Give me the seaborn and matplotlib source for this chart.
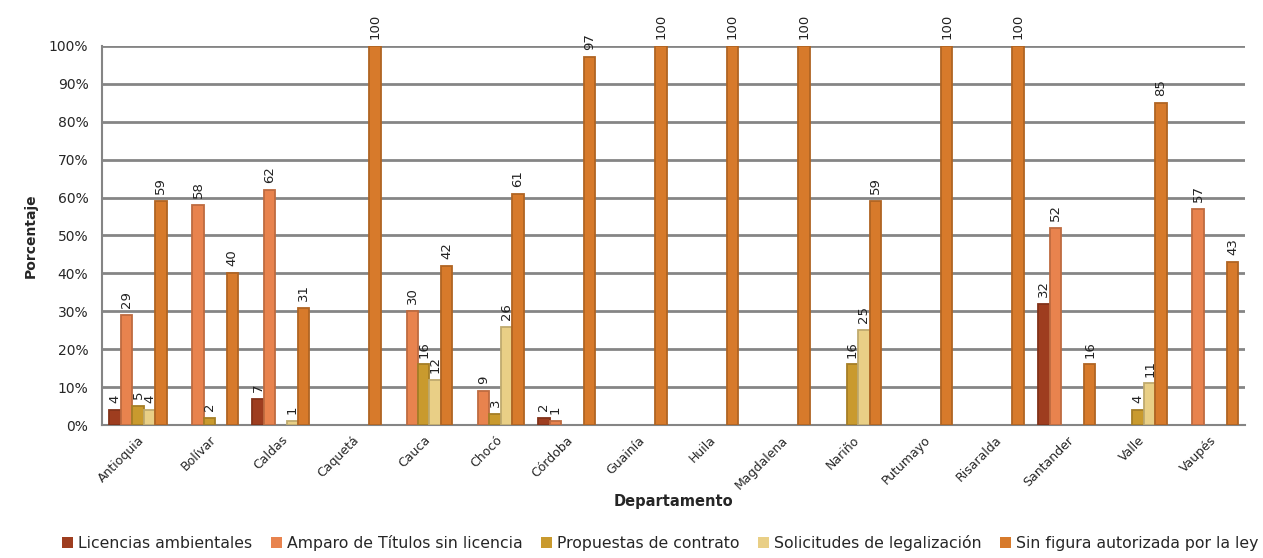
import numpy as np
import pandas as pd
import matplotlib
matplotlib.use("Agg")
import matplotlib.pyplot as plt
import matplotlib.colors as mcolors
import seaborn as sns

departamentos = ["Antioquia", "Bolívar", "Caldas", "Caquetá", "Cauca", "Chocó", "Córdoba",
                 "Guainía", "Huila", "Magdalena", "Nariño", "Putumayo", "Risaralda",
                 "Santander", "Valle", "Vaupés"]

series = ["Licencias ambientales", "Amparo de Títulos sin licencia", "Propuestas de contrato",
          "Solicitudes de legalización", "Sin figura autorizada por la ley"]

licencias   = [4, 0, 7, 0, 0, 0, 2, 0, 0, 0, 0, 0, 0, 32, 0, 0]
amparo      = [29, 58, 62, 0, 30, 9, 1, 0, 0, 0, 0, 0, 0, 52, 0, 57]
propuestas  = [5, 2, 0, 0, 16, 3, 0, 0, 0, 0, 16, 0, 0, 0, 4, 0]
solicitudes = [4, 0, 1, 0, 12, 26, 0, 0, 0, 0, 25, 0, 0, 0, 11, 0]
sin_figura  = [59, 40, 31, 100, 42, 61, 97, 100, 100, 100, 59, 100, 100, 16, 85, 43]

colores = ["#9E3D1F", "#E8834E", "#C99A2E", "#E9CF86", "#D77A2B"]

valores = [licencias, amparo, propuestas, solicitudes, sin_figura]
df = pd.DataFrame({
    "Departamento": np.tile(departamentos, len(series)),
    "Serie": np.repeat(series, len(departamentos)),
    "Porcentaje": np.concatenate(valores),
})

sns.set_theme(style="white")
plt.rcParams["font.family"] = ["DejaVu Sans"]

fig = plt.figure(figsize=(12.63, 5.58), dpi=100)
ax = fig.add_axes([0.081, 0.238, 0.905, 0.68])

sns.barplot(data=df, x="Departamento", y="Porcentaje", hue="Serie",
            hue_order=series, order=departamentos, palette=colores,
            width=0.8, saturation=1, ax=ax, legend=True, linewidth=0, zorder=3)

# darker rim on each visible bar for a rounded, shaded look
for cont, col in zip(ax.containers, colores):
    rim = np.array(mcolors.to_rgb(col)) * 0.82
    for bar in cont:
        if bar.get_height() > 0:
            bar.set_edgecolor(rim)
            bar.set_linewidth(1.3)
        else:
            bar.set_visible(False)

for cont, vals in zip(ax.containers, valores):
    labels = [str(v) if v > 0 else "" for v in vals]
    ax.bar_label(cont, labels=labels, rotation=90, padding=5, fontsize=9.5,
                 color="#222222", clip_on=False)

ax.set_ylim(0, 100)
ax.set_xlim(-0.5, len(departamentos) - 0.5)
ax.set_yticks(np.arange(0, 101, 10))
ax.set_yticklabels([f"{v}%" for v in range(0, 101, 10)], fontsize=10)
ax.yaxis.grid(True, color="#858585", linewidth=2.0, zorder=0)
ax.set_axisbelow(True)

ax.set_xticks(range(len(departamentos)))
ax.set_xticklabels(departamentos, rotation=45, ha="right", rotation_mode="anchor", fontsize=9)
ax.set_xticks(np.arange(-0.5, len(departamentos), 1), minor=True)
ax.tick_params(axis="x", which="major", length=0, pad=6)
ax.tick_params(axis="x", which="minor", length=6, color="#858585", width=1.5, direction="out")
ax.tick_params(axis="y", length=6, color="#858585", width=1.5, direction="out", pad=4)

for side in ["top", "right"]:
    ax.spines[side].set_visible(False)
for side in ["left", "bottom"]:
    ax.spines[side].set_color("#858585")
    ax.spines[side].set_linewidth(1.5)

ax.set_ylabel("Porcentaje", fontsize=10, fontweight="bold", labelpad=8)
ax.set_xlabel("Departamento", fontsize=10.5, fontweight="bold", labelpad=2)

handles, lbls = ax.get_legend_handles_labels()
ax.legend_.remove()
fig.legend(handles, lbls, loc="lower center", bbox_to_anchor=(0.523, -0.012), ncol=5,
           frameon=False, fontsize=11.3, handlelength=0.7, handleheight=0.7,
           handletextpad=0.3, columnspacing=1.2)

fig.savefig("out.png", dpi=100)
